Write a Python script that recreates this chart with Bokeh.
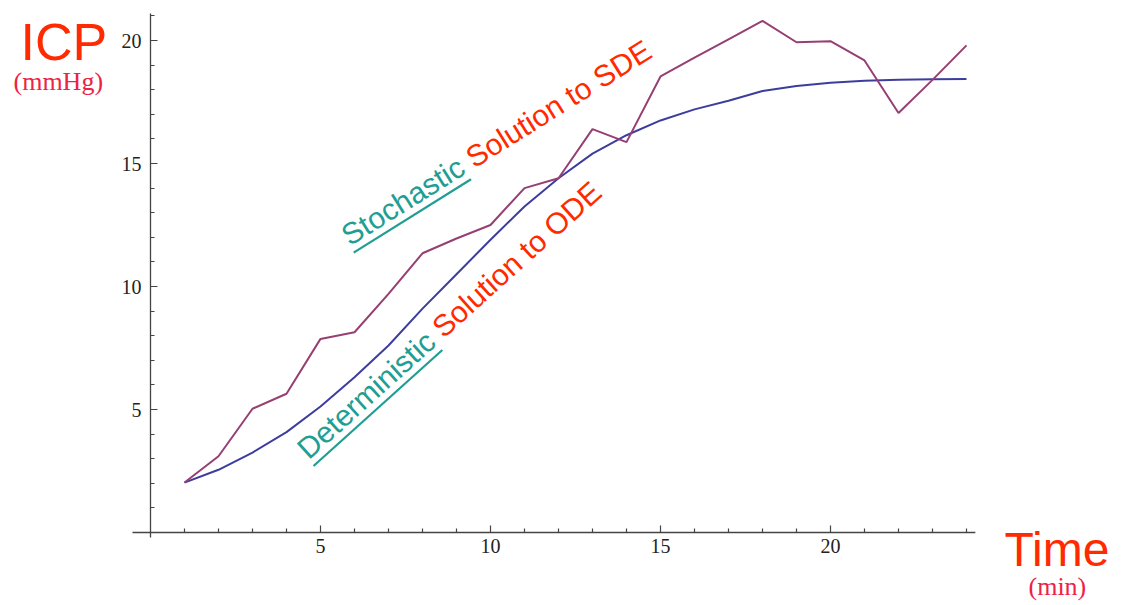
import math
from bokeh.plotting import figure
from bokeh.models import Range1d, LinearAxis, FixedTicker
from bokeh.core.properties import value
from bokeh.embed import file_html
from bokeh.resources import INLINE

# ---- data ----
time_min = [1, 2, 3, 4, 5, 6, 7, 8, 9, 10, 11, 12, 13, 14, 15, 16, 17, 18, 19, 20, 21, 22, 23, 24]
deterministic_icp = [2.03, 2.55, 3.25, 4.08, 5.12, 6.31, 7.6, 9.1, 10.5, 11.9, 13.25, 14.4,
                     15.4, 16.15, 16.75, 17.2, 17.55, 17.95, 18.15, 18.28, 18.36, 18.4, 18.42, 18.44]
stochastic_icp = [2.03, 3.1, 5.03, 5.64, 7.87, 8.14, 9.7, 11.35, 11.95, 12.5, 14.0, 14.4,
                  16.4, 15.87, 18.54, 19.3, 20.05, 20.8, 19.93, 19.97, 19.19, 17.05, 18.4, 19.8]
x_major_ticks = [5, 10, 15, 20]
x_minor_ticks = [1, 2, 3, 4, 6, 7, 8, 9, 11, 12, 13, 14, 16, 17, 18, 19, 21, 22, 23, 24]
y_major_ticks = [5, 10, 15, 20]
y_minor_ticks = [1, 2, 3, 4, 6, 7, 8, 9, 11, 12, 13, 14, 16, 17, 18, 19, 21]
x_axis_span = [-0.53, 24.26]
y_axis_span = [-0.2, 21.1]

# ---- layout: frame covers whole canvas; pixel <-> data mapping ----
W, H = 1120, 603
PX0, PXU = 150, 34.0      # pixel of x=0, pixels per minute
PY0, PYU = 532, 24.6      # pixel of y=0, pixels per mmHg
BASE_SHIFT = 0.39         # text anchor lies this many em above the baseline


def to_data(px, py):
    return ((px - PX0) / PXU, (PY0 - py) / PYU)


p = figure(width=W, height=H, output_backend="svg", toolbar_location=None,
           x_range=Range1d(-PX0 / PXU, (W - PX0) / PXU),
           y_range=Range1d((PY0 - H) / PYU, PY0 / PYU),
           x_axis_location=None, y_axis_location=None,
           min_border=0, min_border_left=0, min_border_right=0,
           min_border_top=0, min_border_bottom=0)
p.outline_line_color = None
p.xgrid.visible = False
p.ygrid.visible = False
p.background_fill_color = "white"
p.border_fill_color = "white"

AX = "#444444"
xaxis = LinearAxis(fixed_location=0,
                   ticker=FixedTicker(ticks=x_major_ticks, minor_ticks=x_minor_ticks))
yaxis = LinearAxis(fixed_location=0,
                   ticker=FixedTicker(ticks=y_major_ticks, minor_ticks=y_minor_ticks))
for ax in (xaxis, yaxis):
    ax.axis_line_color = None
    ax.major_tick_line_color = AX
    ax.minor_tick_line_color = AX
    ax.major_tick_line_width = 1.2
    ax.minor_tick_line_width = 1.2
    ax.major_tick_in = 7
    ax.major_tick_out = 0
    ax.minor_tick_in = 4
    ax.minor_tick_out = 0
    ax.major_label_text_font = "Liberation Serif"
    ax.major_label_text_font_size = "20px"
    ax.major_label_text_color = "#222222"
xaxis.major_label_standoff = 6
yaxis.major_label_standoff = 9
p.add_layout(xaxis, "below")
p.add_layout(yaxis, "left")

# axis lines (Mathematica style, crossing at the origin)
p.segment(x0=[x_axis_span[0], 0], y0=[0, y_axis_span[0]],
          x1=[x_axis_span[1], 0], y1=[0, y_axis_span[1]],
          line_color=AX, line_width=1.3)

p.line(time_min, deterministic_icp, line_color="#3d3d9e", line_width=2)
p.line(time_min, stochastic_icp, line_color="#963f72", line_width=2)

RED = "#ff2a00"
TEAL = "#1f9e93"


def add_text(px, py, text, font, size, color, angle=0):
    """px, py: left end of the text baseline in picture pixels."""
    a = math.radians(angle)
    up = BASE_SHIFT * size
    ax_, ay_ = px - up * math.sin(a), py - up * math.cos(a)
    x, y = to_data(ax_, ay_)
    p.text(x=[x], y=[y], text=[text], text_font=value(font), text_font_size=f"{size}px",
           text_color=color, angle=angle, angle_units="deg",
           text_baseline="alphabetic", text_align="left")


add_text(20, 62, "ICP", "Liberation Sans", 52, RED)
add_text(13, 91, "(mmHg)", "Liberation Serif", 26, "#ee2244")
add_text(1004, 568, "Time", "Liberation Sans", 48, RED)
add_text(1028, 596, "(min)", "Liberation Serif", 26, "#ee2244")


def slanted(px, py, angle, first, first_w, gap_w, second, size=30):
    a = math.radians(angle)
    dx, dy = math.cos(a), -math.sin(a)
    nx, ny = math.sin(a), math.cos(a)
    add_text(px, py, first, "Liberation Sans", size, TEAL, angle)
    add_text(px + (first_w + gap_w) * dx, py + (first_w + gap_w) * dy,
             second, "Liberation Sans", size, RED, angle)
    ux0, uy0 = px + 6 * nx, py + 6 * ny
    ux1, uy1 = ux0 + first_w * dx, uy0 + first_w * dy
    a0 = to_data(ux0, uy0)
    a1 = to_data(ux1, uy1)
    p.segment(x0=[a0[0]], y0=[a0[1]], x1=[a1[0]], y1=[a1[1]],
              line_color=TEAL, line_width=2.2)


slanted(350, 247, 32, "Stochastic", 4.613 * 30, 0.278 * 30, "Solution to SDE")
slanted(309, 461, 42, "Deterministic", 5.778 * 30, 0.278 * 30, "Solution to ODE")

open("out.html", "w").write(file_html(p, INLINE))
